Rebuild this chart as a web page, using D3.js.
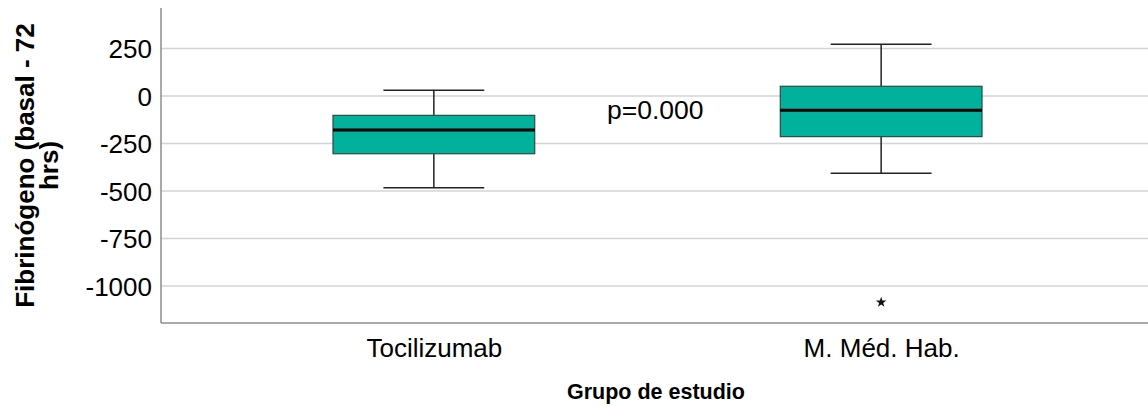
<!DOCTYPE html>
<html>
<head>
<meta charset="utf-8">
<script src="https://cdn.jsdelivr.net/npm/d3@7"></script>
<style>
  html, body { margin: 0; padding: 0; background: #fff; }
  svg text { font-family: "Liberation Sans", Arial, sans-serif; fill: #000; }
</style>
</head>
<body>
<svg id="chart" width="1148" height="412"></svg>
<script>
// Fibrinogen change (baseline - 72 h) by study group
const groups = ["Tocilizumab", "M. Méd. Hab."];
const whiskerLow = [-483, -407];
const q1 = [-304, -214];
const median = [-179, -75];
const q3 = [-102, 51];
const whiskerHigh = [30, 272];
const outlierGroup = ["M. Méd. Hab."];
const outlierValue = [-1086];
const yTicks = [250, 0, -250, -500, -750, -1000];
const pLabel = "p=0.000";

const svg = d3.select("#chart");
const plotLeft = 161, plotRight = 1148, plotTop = 8, plotBottom = 323;

const y = d3.scaleLinear().domain([-1195, 463]).range([plotBottom, plotTop]);
const x = d3.scalePoint().domain(groups).range([plotLeft, 1154]).padding(0.61);
const boxW = x.step() * 0.451;
const capW = boxW * 0.5;

// grid lines
svg.append("g")
  .selectAll("line")
  .data(yTicks)
  .join("line")
  .attr("x1", plotLeft).attr("x2", plotRight)
  .attr("y1", d => y(d)).attr("y2", d => y(d))
  .attr("stroke", "#d4d4d4").attr("stroke-width", 1.5);

// y axis (plain hyphen for negatives)
const yAxis = svg.append("g")
  .attr("transform", `translate(${plotLeft},0)`)
  .call(d3.axisLeft(y).tickValues(yTicks).tickSize(0).tickPadding(9).tickFormat(d => String(d)));
yAxis.select(".domain").attr("stroke", "#8c8c8c").attr("stroke-width", 1.5)
  .attr("d", `M0,${plotTop}V${plotBottom}`);
yAxis.selectAll("text").style("font-size", "26px").attr("dy", "0.35em");

// x axis
const xAxis = svg.append("g")
  .attr("transform", `translate(0,${plotBottom})`)
  .call(d3.axisBottom(x).tickSize(0).tickPadding(0));
xAxis.select(".domain").attr("stroke", "#8c8c8c").attr("stroke-width", 1.5)
  .attr("d", `M${plotLeft},0H${plotRight}`);
xAxis.selectAll("text").style("font-size", "26px").attr("y", 34).attr("dy", 0);

// axis titles
svg.append("text")
  .attr("x", (plotLeft + plotRight) / 2 + 1.5).attr("y", 399)
  .attr("text-anchor", "middle")
  .style("font-size", "21.5px").style("font-weight", "bold")
  .text("Grupo de estudio");

const yTitle = svg.append("text")
  .attr("transform", `translate(34,${(plotTop + plotBottom) / 2}) rotate(-90)`)
  .attr("text-anchor", "middle")
  .style("font-size", "26px").style("font-weight", "bold");
yTitle.append("tspan").attr("x", 0).attr("dy", 0).text("Fibrinógeno (basal - 72");
yTitle.append("tspan").attr("x", 0).attr("dy", 24).text("hrs)");

// boxes
const stats = groups.map((g, i) => ({
  g, lo: whiskerLow[i], q1: q1[i], med: median[i], q3: q3[i], hi: whiskerHigh[i]
}));

const box = svg.append("g").selectAll("g").data(stats).join("g")
  .attr("transform", d => `translate(${x(d.g)},0)`);

box.append("line")
  .attr("x1", 0).attr("x2", 0)
  .attr("y1", d => y(d.hi)).attr("y2", d => y(d.q3))
  .attr("stroke", "#222").attr("stroke-width", 1.5);
box.append("line")
  .attr("x1", 0).attr("x2", 0)
  .attr("y1", d => y(d.q1)).attr("y2", d => y(d.lo))
  .attr("stroke", "#222").attr("stroke-width", 1.5);
box.append("line")
  .attr("x1", -capW / 2).attr("x2", capW / 2)
  .attr("y1", d => y(d.hi)).attr("y2", d => y(d.hi))
  .attr("stroke", "#222").attr("stroke-width", 1.5);
box.append("line")
  .attr("x1", -capW / 2).attr("x2", capW / 2)
  .attr("y1", d => y(d.lo)).attr("y2", d => y(d.lo))
  .attr("stroke", "#222").attr("stroke-width", 1.5);
box.append("rect")
  .attr("x", -boxW / 2).attr("width", boxW)
  .attr("y", d => y(d.q3)).attr("height", d => y(d.q1) - y(d.q3))
  .attr("fill", "#00b19c").attr("stroke", "#2e4a45").attr("stroke-width", 1.2);
box.append("line")
  .attr("x1", -boxW / 2).attr("x2", boxW / 2)
  .attr("y1", d => y(d.med)).attr("y2", d => y(d.med))
  .attr("stroke", "#000").attr("stroke-width", 3);

// extreme values
svg.append("g").selectAll("path")
  .data(outlierGroup.map((g, i) => ({ g, v: outlierValue[i] })))
  .join("path")
  .attr("transform", d => `translate(${x(d.g)},${y(d.v)})`)
  .attr("d", d3.symbol(d3.symbolStar, 34))
  .attr("fill", "#111");

// significance annotation
svg.append("text")
  .attr("x", 607).attr("y", 119)
  .style("font-size", "26.5px")
  .text(pLabel);
</script>
</body>
</html>
